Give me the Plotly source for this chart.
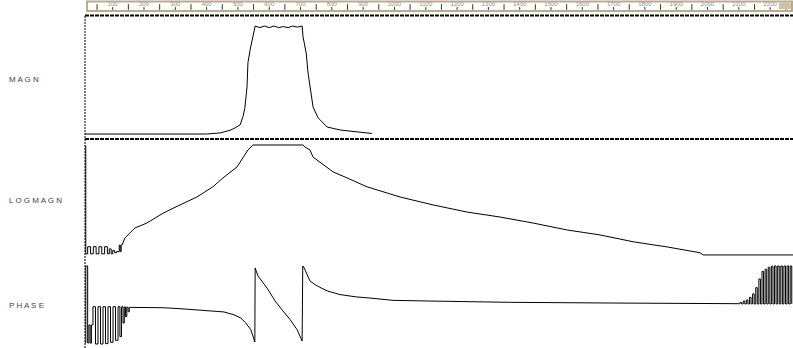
import plotly.graph_objects as go

W, H = 793, 348

# ---------------- data ----------------
ruler_ticks = [100, 200, 300, 400, 500, 600, 700, 800, 900, 1000, 1100,
               1200, 1300, 1400, 1500, 1600, 1700, 1800, 1900, 2000, 2100, 2200]
ruler_labels = ["100", "200", "300", "400", "500", "600", "700", "800", "900", "1000", "1100",
                "1200", "1300", "1400", "1500", "1600", "1700", "1800", "1900", "2000", "2100", "2200"]
ruler_mid = [50, 150, 250, 350, 450, 550, 650, 750, 850, 950, 1050, 1150,
             1250, 1350, 1450, 1550, 1650, 1750, 1850, 1950, 2050, 2150, 2250]

magn_x = [11, 300, 400, 443, 475, 490, 507, 516, 522, 529, 532, 539, 545, 552, 555,
          570, 585, 600, 615, 630, 645, 660, 675, 690, 705,
          708, 718, 724, 733, 740, 756, 785, 827, 874, 928]
magn_y = [0, 0, 0, 0.01, 0.035, 0.055, 0.085, 0.16, 0.24, 0.435, 0.66, 0.78, 0.87, 0.96, 1.0,
          0.985, 1.0, 0.985, 1.0, 0.985, 0.995, 0.985, 1.0, 0.99, 1.0,
          0.9, 0.75, 0.565, 0.38, 0.25, 0.15, 0.065, 0.037, 0.02, 0.005]

logmagn_noise_x = [11, 14, 20, 29, 38, 47, 56, 65, 74, 83, 89, 95, 100, 106, 112, 121, 124, 127, 130]
logmagn_noise_y = [-1, -99, -92.5, -99, -92.5, -99, -92.5, -99, -92.5, -99, -94.5, -99, -96, -98,
                   -97, -91, -97, -91, -91]

logmagn_x = [130, 139, 155, 171, 209, 261, 315, 369, 420, 452, 497, 516, 532, 548, 708, 714,
             730, 740, 772, 804, 849, 912, 1018, 1123, 1232, 1337, 1443, 1552, 1657, 1762,
             1871, 1976, 1986, 2273]
logmagn_y = [-91, -84.5, -80, -75.5, -71, -62, -54.5, -47.3, -38, -30, -20, -11.8, -4.5, 0, 0, -1.8,
             -4.5, -11, -18, -24.5, -30, -38, -47.3, -54.5, -61, -65.5, -71, -77.3, -81.8, -88,
             -92.7, -98, -100, -100]

phase_start_x = [11, 14, 20, 24, 28, 32, 37, 45, 53, 61, 69, 77, 85, 93, 101, 109, 117,
                 123, 128, 133, 137, 141, 145, 149, 153]
phase_start_y = [-175, 180, -175, -92, -176, -92, -8, -180, -8, -180, -8, -178, -8,
                 -172, -8, -163, -8, -146, -8, -83, -9, -54, -10, -31, -11]

phase_x = [153, 260, 315, 379, 412, 455, 487, 509, 525, 541, 550, 554, 555, 564, 593, 619, 644,
           667, 689, 702, 705, 707, 710, 714, 730, 753, 785, 826, 880, 922, 995, 1104, 1210,
           1370, 1711, 2100]
phase_y = [-11, -12.5, -17, -23, -26, -32, -45, -60, -83, -114, -152, -171, 171, 134, 78, 18, -28,
           -68, -114, -160, -166, 180, 175, 163, 111, 88, 65, 48, 37, 32, 21.5, 18.5, 15,
           12.3, 9, 6]

phase_wrap_top_x = [2104, 2114, 2124, 2134, 2144, 2154, 2164, 2174, 2184, 2194, 2204, 2214,
                    2224, 2234, 2244, 2254, 2264]
phase_wrap_top_y = [12, 18, 23, 35, 51, 80, 120, 155, 165, 174, 179, 180, 180, 180, 180, 180, 180]
phase_wrap_base_x = [2109, 2119, 2129, 2139, 2149, 2159, 2169, 2179, 2189, 2199, 2209, 2219,
                     2229, 2239, 2249, 2259, 2269]
phase_wrap_base_y = [5, 5, 5, 5, 5, 5, 5, 5, 5, 5, 5, 5, 5, 5, 5, 5, 5]

# interleave wrap bars
wrap_x, wrap_y = [2100], [6]
for tx, ty, bx, by in zip(phase_wrap_top_x, phase_wrap_top_y, phase_wrap_base_x, phase_wrap_base_y):
    wrap_x += [tx, bx]
    wrap_y += [ty, by]


def dom(bottom_px, top_px):
    return [1 - bottom_px / H, 1 - top_px / H]


def px(v):
    return v / W


def py(v):
    return 1 - v / H


FONT = "Liberation Sans, Arial, sans-serif"
line = dict(color="#000000", width=1)

fig = go.Figure()
fig.add_trace(go.Scatter(x=magn_x, y=magn_y, mode="lines", line=line, xaxis="x", yaxis="y",
                         hoverinfo="skip"))
fig.add_trace(go.Scatter(x=logmagn_noise_x, y=logmagn_noise_y, mode="lines",
                         line=dict(color="#000000", width=1, shape="hv"), xaxis="x", yaxis="y2",
                         hoverinfo="skip"))
fig.add_trace(go.Scatter(x=logmagn_x, y=logmagn_y, mode="lines", line=line, xaxis="x", yaxis="y2",
                         hoverinfo="skip"))
fig.add_trace(go.Scatter(x=phase_start_x, y=phase_start_y, mode="lines",
                         line=dict(color="#000000", width=1, shape="hv"), xaxis="x", yaxis="y3",
                         hoverinfo="skip"))
fig.add_trace(go.Scatter(x=phase_x, y=phase_y, mode="lines", line=line, xaxis="x", yaxis="y3",
                         hoverinfo="skip"))
fig.add_trace(go.Scatter(x=wrap_x, y=wrap_y, mode="lines",
                         line=dict(color="#000000", width=1, shape="hv"), xaxis="x", yaxis="y3",
                         hoverinfo="skip"))

# ruler
fig.add_trace(go.Scatter(x=ruler_ticks, y=[0.62] * len(ruler_ticks), mode="text", text=ruler_labels,
                         textfont=dict(size=6, color="#8c8c8c", family=FONT), xaxis="x", yaxis="y4",
                         hoverinfo="skip"))
fig.add_trace(go.Scatter(x=ruler_mid, y=[0.4] * len(ruler_mid), mode="markers",
                         marker=dict(symbol="line-ns", size=4, line=dict(width=1, color="#333333")),
                         xaxis="x", yaxis="y4", hoverinfo="skip"))
fig.add_trace(go.Scatter(x=ruler_ticks, y=[0.25] * len(ruler_ticks), mode="markers",
                         marker=dict(symbol="line-ns", size=2, line=dict(width=1, color="#333333")),
                         xaxis="x", yaxis="y4", hoverinfo="skip"))

hidden = dict(visible=False, fixedrange=True)
fig.update_layout(
    width=W, height=H, margin=dict(l=0, r=0, t=0, b=0),
    paper_bgcolor="white", plot_bgcolor="white", showlegend=False,
    xaxis=dict(domain=[px(85), 1], range=[11.5, 2273], **hidden),
    yaxis=dict(domain=dom(139, 15), range=[-0.046, 1.102], **hidden),
    yaxis2=dict(domain=dom(261, 139), range=[-105.5, 5.45], **hidden),
    yaxis3=dict(domain=dom(348, 261), range=[-198.4, 203], **hidden),
    yaxis4=dict(domain=dom(11, 1), range=[0, 1], **hidden),
    shapes=[
        dict(type="rect", xref="paper", yref="paper", x0=px(87), x1=px(792), y0=py(11), y1=py(1.5),
             line=dict(color="#b8ac8c", width=2), fillcolor="rgba(0,0,0,0)"),
        dict(type="rect", xref="paper", yref="paper", x0=px(779), x1=px(791), y0=py(9), y1=py(2.5),
             line=dict(width=0), fillcolor="#cbc2aa"),
        dict(type="line", xref="paper", yref="paper", x0=px(85), x1=1, y0=py(15.5), y1=py(15.5),
             line=dict(color="#000000", width=2, dash="4px,1px")),
        dict(type="line", xref="paper", yref="paper", x0=px(85), x1=1, y0=py(139), y1=py(139),
             line=dict(color="#000000", width=2, dash="4px,1px")),
        dict(type="line", xref="paper", yref="paper", x0=px(85), x1=px(85), y0=py(16), y1=0,
             line=dict(color="#000000", width=1, dash="2px,1px")),
    ],
    annotations=[
        dict(text="M A G N", x=px(7), y=py(80), xref="paper", yref="paper", xanchor="left",
             yanchor="middle", showarrow=False, font=dict(size=8, color="#444444", family=FONT)),
        dict(text="L O G M A G N", x=px(7), y=py(200), xref="paper", yref="paper", xanchor="left",
             yanchor="middle", showarrow=False, font=dict(size=8, color="#444444", family=FONT)),
        dict(text="P H A S E", x=px(7), y=py(305), xref="paper", yref="paper", xanchor="left",
             yanchor="middle", showarrow=False, font=dict(size=8, color="#444444", family=FONT)),
    ],
)

fig.write_html("out.html", config={"displayModeBar": False, "staticPlot": True},
               post_script="document.body.style.margin='0px';document.body.style.overflow='hidden';")
